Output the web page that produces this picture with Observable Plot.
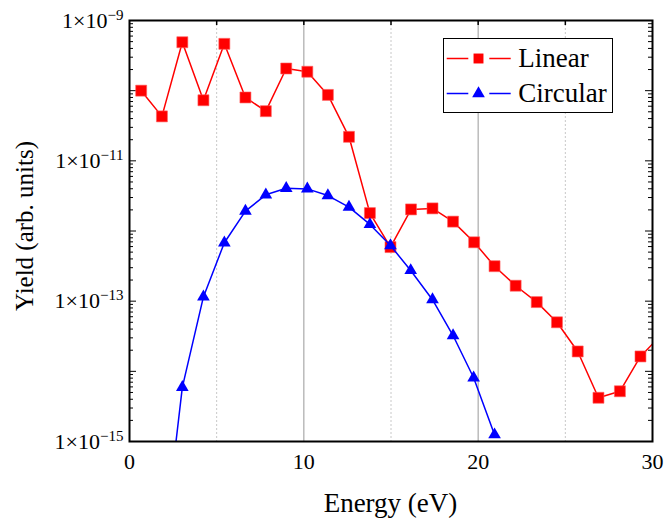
<!DOCTYPE html>
<html><head><meta charset="utf-8">
<script src="https://cdn.jsdelivr.net/npm/d3@7"></script>
<script src="https://cdn.jsdelivr.net/npm/@observablehq/plot@0.6"></script>
<style>body{margin:0;background:#fff}#chart{width:665px;height:520px}</style>
</head><body><div id="chart"></div>
<script>
// Data
const linearEnergy = [0.67, 1.86, 3.03, 4.24, 5.44, 6.65, 7.82, 8.99, 10.2, 11.38, 12.59, 13.79, 14.97, 16.15, 17.38, 18.56, 19.77, 20.94, 22.15, 23.36, 24.52, 25.71, 26.9, 28.13, 29.31, 30.5];
const linearYield = [1.0e-10, 4.3e-11, 4.9e-10, 7.3e-11, 4.65e-10, 8.0e-11, 5.1e-11, 2.07e-10, 1.86e-10, 8.7e-11, 2.2e-11, 1.8e-12, 5.9e-13, 2.03e-12, 2.1e-12, 1.36e-12, 6.9e-13, 3.15e-13, 1.66e-13, 9.7e-14, 5.0e-14, 1.92e-14, 4.2e-15, 5.2e-15, 1.63e-14, 3.3e-14];
const circularEnergy = [1.86, 3.03, 4.24, 5.44, 6.65, 7.82, 8.99, 10.2, 11.38, 12.59, 13.79, 14.97, 16.13, 17.38, 18.56, 19.74, 20.94];
const circularYield = [1.9e-17, 5.9e-15, 1.15e-13, 6.8e-13, 1.92e-12, 3.28e-12, 4.07e-12, 3.98e-12, 3.2e-12, 2.19e-12, 1.24e-12, 6.2e-13, 2.74e-13, 1.05e-13, 3.24e-14, 8.1e-15, 1.25e-15];

const seriesNames = ["Linear", "Circular"];
const xLabelTicks = [0, 10, 20, 30];
const xTopTicks = [5, 10, 15, 20, 25];
const solidGrid = [10, 20];
const dottedGrid = [5, 15, 25];
const yLabelTicks = [1e-9, 1e-11, 1e-13, 1e-15];
const xTitle = "Energy (eV)";
const yTitle = "Yield (arb. units)";

const linearData = linearEnergy.map((e, i) => ({e, v: linearYield[i]}));
const circularData = circularEnergy.map((e, i) => ({e, v: circularYield[i]}));

const W = 665, H = 520, mL = 129, mR = 13, mT = 20, mB = 79;
const plotW = W - mL - mR, plotH = H - mT - mB;
const yDomain = [1e-15, 1e-9];
const allTicks = d3.scaleLog().domain(yDomain).ticks();
const isDecade = d => Math.abs(Math.log10(d) - Math.round(Math.log10(d))) < 1e-6;
const decadeTicks = allTicks.filter(isDecade);
const subTicks = allTicks.filter(d => !isDecade(d));

const red = "#ff0000", blue = "#0000ff";
const font = "'Liberation Serif', 'Times New Roman', serif";

const plot = Plot.plot({
  width: W, height: H,
  marginLeft: mL, marginRight: mR, marginTop: mT, marginBottom: mB,
  style: {fontFamily: font, fontSize: "22px", background: "white", color: "black"},
  x: {domain: [0, 30]},
  y: {type: "log", domain: yDomain},
  marks: [
    Plot.ruleX(dottedGrid, {stroke: "#c8c8c8", strokeWidth: 1, strokeDasharray: "2,2"}),
    Plot.ruleX(solidGrid, {stroke: "#aaaaaa", strokeWidth: 1.2}),
    Plot.tickY(decadeTicks, {stroke: "black", strokeWidth: 1, insetRight: plotW - 7}),
    Plot.tickY(subTicks, {stroke: "black", strokeWidth: 1, insetRight: plotW - 4}),
    Plot.tickY(decadeTicks, {stroke: "black", strokeWidth: 1, insetLeft: plotW - 7}),
    Plot.tickY(subTicks, {stroke: "black", strokeWidth: 1, insetLeft: plotW - 4}),
    Plot.tickX(xTopTicks, {stroke: "black", strokeWidth: 1.5, insetBottom: plotH - 5}),
    Plot.line(linearData, {x: "e", y: "v", stroke: red, strokeWidth: 1.5, clip: true}),
    Plot.dot(linearData, {x: "e", y: "v", symbol: "square", r: 6.2, fill: red, stroke: "#ff6060", strokeWidth: 0.6, clip: true}),
    Plot.line(circularData, {x: "e", y: "v", stroke: blue, strokeWidth: 1.5, clip: true}),
    Plot.dot(circularData, {x: "e", y: "v", symbol: "triangle", r: 4.7, fill: blue, clip: true}),
    Plot.frame({stroke: "black", strokeWidth: 2}),
    Plot.axisX({ticks: xLabelTicks, tickSize: 0, tickPadding: 12, fontSize: 22, label: null}),
    Plot.axisY({ticks: yLabelTicks, tickSize: 0, tickPadding: 6, fontSize: 22, label: null,
      tickFormat: d => "1×10^" + Math.round(Math.log10(d))})
  ]
});

document.getElementById("chart").appendChild(plot);
const svg = d3.select(plot);
const NS = "http://www.w3.org/2000/svg";

// superscript exponents
plot.querySelectorAll('g[aria-label="y-axis tick label"] text').forEach(t => {
  const [base, exp] = t.textContent.split("^");
  t.textContent = base;
  const ts = document.createElementNS(NS, "tspan");
  ts.setAttribute("dy", "-8");
  ts.setAttribute("font-size", "15");
  ts.textContent = "−" + Math.abs(+exp);
  t.appendChild(ts);
});

// axis titles
svg.append("text").attr("x", mL + plotW / 2).attr("y", 512)
  .attr("text-anchor", "middle").attr("font-size", 27).attr("font-family", font)
  .attr("fill", "black").text(xTitle);
svg.append("text").attr("transform", "translate(33,226) rotate(-90)")
  .attr("text-anchor", "middle").attr("font-size", 25).attr("font-family", font)
  .attr("fill", "black").text(yTitle);

// legend
const lg = svg.append("g");
lg.append("rect").attr("x", 443.5).attr("y", 38.5).attr("width", 169).attr("height", 74)
  .attr("fill", "white").attr("stroke", "black").attr("stroke-width", 1);
const legendItems = [
  {name: seriesNames[0], color: red, sym: d3.symbolSquare, size: Math.PI * 5.6 * 5.6, y: 58.5},
  {name: seriesNames[1], color: blue, sym: d3.symbolTriangle, size: Math.PI * 4.7 * 4.7, y: 93.5}
];
legendItems.forEach(it => {
  lg.append("line").attr("x1", 446.7).attr("x2", 468.3).attr("y1", it.y).attr("y2", it.y)
    .attr("stroke", it.color).attr("stroke-width", 1.5);
  lg.append("line").attr("x1", 489.3).attr("x2", 510.7).attr("y1", it.y).attr("y2", it.y)
    .attr("stroke", it.color).attr("stroke-width", 1.5);
  lg.append("path").attr("d", d3.symbol(it.sym, it.size)())
    .attr("transform", `translate(478.5,${it.y})`).attr("fill", it.color);
  lg.append("text").attr("x", 518.3).attr("y", it.y + 8.5).attr("text-anchor", "start")
    .attr("font-size", 27).attr("font-family", font).attr("fill", "black").text(it.name);
});
</script>
</body></html>
